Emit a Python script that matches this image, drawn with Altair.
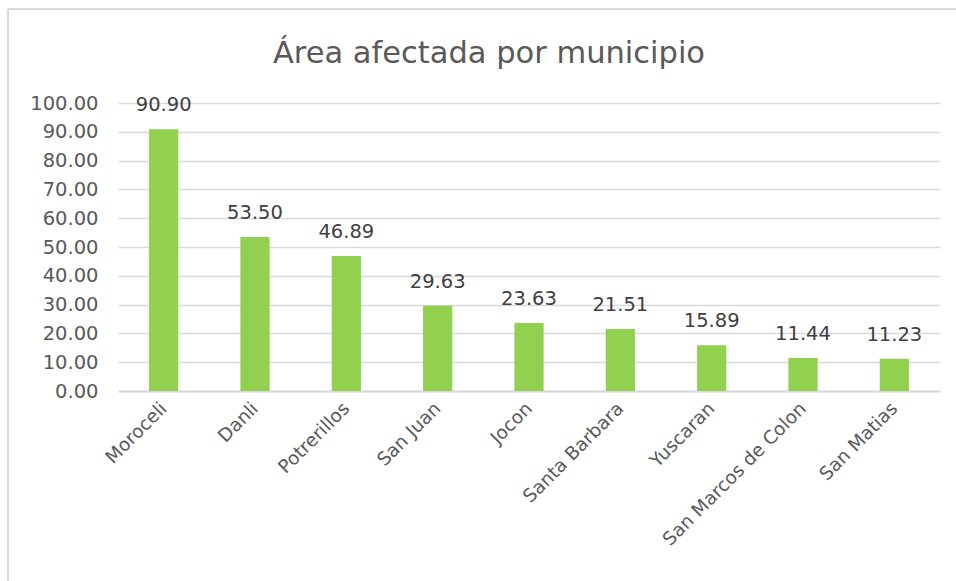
import altair as alt
import pandas as pd

municipios = ["Moroceli", "Danli", "Potrerillos", "San Juan", "Jocon",
              "Santa Barbara", "Yuscaran", "San Marcos de Colon", "San Matias"]
area = [90.90, 53.50, 46.89, 29.63, 23.63, 21.51, 15.89, 11.44, 11.23]
y_ticks = [0, 10, 20, 30, 40, 50, 60, 70, 80, 90, 100]
titulo = "Área afectada por municipio"

df = pd.DataFrame({"municipio": municipios, "area": area})

FONT = "DejaVu Sans"
TXT = "#595959"
W, H = 822, 288

x_enc = alt.X("municipio:N", sort=municipios, title=None,
              scale=alt.Scale(paddingInner=0.68, paddingOuter=0.34),
              axis=alt.Axis(labelAngle=-45, labelAlign="right", labelBaseline="middle",
                            labelPadding=14, ticks=False, domain=True, labelOverlap=False,
                            labelLimit=0, domainColor="#d9d9d9", domainWidth=2,
                            labelFont=FONT, labelFontSize=18.5, labelColor=TXT))
y_enc = alt.Y("area:Q", title=None,
              scale=alt.Scale(domain=[0, 100], nice=False),
              axis=alt.Axis(values=y_ticks, format=".2f", ticks=False, domain=False,
                            labelOverlap=False, tickCount=11,
                            gridColor="#d9d9d9", gridWidth=1.5, labelPadding=20,
                            labelFont=FONT, labelFontSize=19.5, labelColor=TXT))

base = alt.Chart(df)
bars = base.mark_bar(color="#92D050").encode(x=x_enc, y=y_enc)
labels = base.mark_text(dy=-18, baseline="alphabetic", font=FONT, fontSize=19.5,
                        color="#404040").encode(
    x=alt.X("municipio:N", sort=municipios),
    y="area:Q",
    text=alt.Text("area:Q", format=".2f"))

title_mark = alt.Chart(pd.DataFrame({"t": [titulo]})).mark_text(
    font=FONT, fontSize=30.5, color=TXT, baseline="middle", align="center", clip=False
).encode(x=alt.value(371), y=alt.value(-49), text="t:N")

border_left = alt.Chart(df).mark_rule(color="#d9d9d9", strokeWidth=2, clip=False).encode(
    x=alt.value(-110), x2=alt.value(-110), y=alt.value(-94), y2=alt.value(H + 190))
border_top = alt.Chart(df).mark_rule(color="#d9d9d9", strokeWidth=2, clip=False).encode(
    x=alt.value(-110), x2=alt.value(W + 16), y=alt.value(-94), y2=alt.value(-94))

chart = alt.layer(bars, labels, title_mark, border_left, border_top).properties(
    width=W, height=H,
    autosize=alt.AutoSizeParams(type="none"),
    padding={"left": 118, "top": 103, "right": 16, "bottom": 190},
).configure(background="white").configure_view(stroke=None)

chart.save("out.html", embed_options={"renderer": "svg", "actions": False})
